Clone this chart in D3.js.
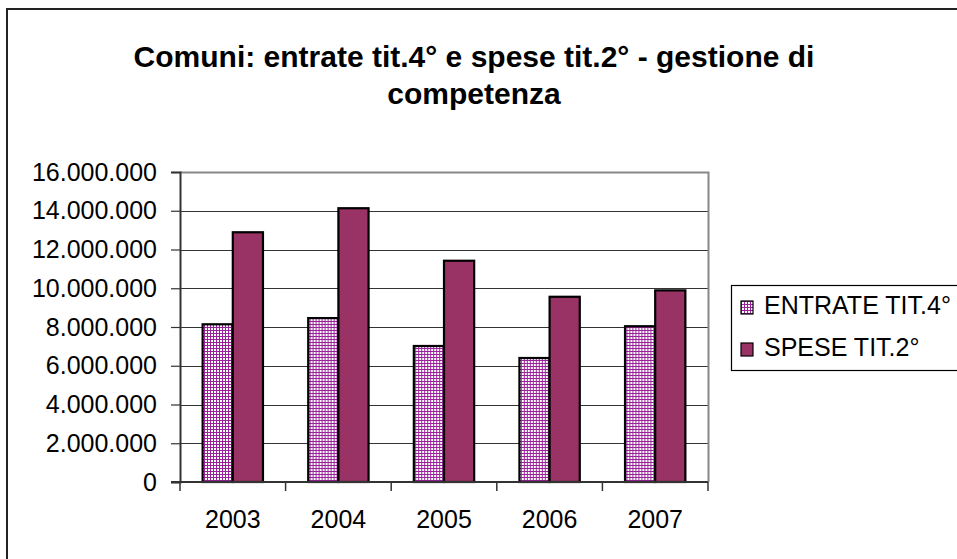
<!DOCTYPE html>
<html lang="it">
<head>
<meta charset="UTF-8">
<title>Comuni: entrate tit.4° e spese tit.2°</title>
<script src="https://d3js.org/d3.v7.min.js"></script>
<style>
    body { margin: 0; background: #fff; }
    svg { display: block; font-family: "Liberation Sans", Arial, sans-serif; }
</style>
</head>
<body>
<svg width="957" height="559"></svg>
<script>
    // data
    const years = ["2003", "2004", "2005", "2006", "2007"];
    const seriesNames = ["ENTRATE TIT.4°", "SPESE TIT.2°"];
    const entrate = [8140000, 8460000, 7020000, 6400000, 8040000];
    const spese = [12890000, 14130000, 11420000, 9560000, 9890000];
    const yTicks = [0, 2000000, 4000000, 6000000, 8000000, 10000000, 12000000, 14000000, 16000000];

    const width = 957, height = 559;
    const plot = { left: 180, right: 708, top: 172, bottom: 482 };

    const svg = d3.select("svg");

    // italian number format 16.000.000
    const it = d3.formatLocale({ decimal: ",", thousands: ".", grouping: [3], currency: ["", " €"] });
    const fmt = it.format(",d");

    // hatch pattern for ENTRATE
    const defs = svg.append("defs");
    const pat = defs.append("pattern")
        .attr("id", "grid")
        .attr("width", 3).attr("height", 3)
        .attr("patternUnits", "userSpaceOnUse");
    pat.append("rect").attr("width", 3).attr("height", 3).attr("fill", "#fff");
    pat.append("rect").attr("x", 0).attr("y", 0).attr("width", 1).attr("height", 3).attr("fill", "#99229a");
    pat.append("rect").attr("x", 0).attr("y", 0).attr("width", 3).attr("height", 1).attr("fill", "#99229a");

    const fills = ["url(#grid)", "#993366"];

    // outer chart border
    svg.append("rect")
        .attr("x", 7).attr("y", 9)
        .attr("width", 1000).attr("height", 600)
        .attr("fill", "none").attr("stroke", "#222").attr("stroke-width", 2);

    // title
    const title = svg.append("text")
        .attr("text-anchor", "middle")
        .attr("font-weight", "bold")
        .attr("font-size", 30)
        .attr("fill", "#000");
    title.append("tspan").attr("x", 474).attr("y", 67).text("Comuni: entrate tit.4° e spese tit.2° - gestione di");
    title.append("tspan").attr("x", 474).attr("y", 104).text("competenza");

    const x = d3.scaleBand().domain(years).range([plot.left, plot.right]).padding(0);
    const x1 = d3.scaleBand().domain(seriesNames).range([0, x.bandwidth()])
        .paddingInner(0).paddingOuter(0.75);
    const y = d3.scaleLinear().domain([0, 16000000]).range([plot.bottom, plot.top]);

    // gridlines
    svg.append("g")
        .selectAll("line")
        .data(yTicks.filter(d => d > 0 && d < 16000000))
        .join("line")
        .attr("x1", plot.left).attr("x2", plot.right)
        .attr("y1", d => Math.round(y(d)) + 0.5).attr("y2", d => Math.round(y(d)) + 0.5)
        .attr("stroke", "#333").attr("stroke-width", 1.2);

    // plot area frame (top + right)
    svg.append("path")
        .attr("d", `M${plot.left},${plot.top + 0.5}H${plot.right + 0.5}V${plot.bottom}`)
        .attr("fill", "none").attr("stroke", "#888").attr("stroke-width", 2);

    // bars
    const data = years.map((yr, i) => ({ year: yr, values: [entrate[i], spese[i]] }));
    const groups = svg.append("g")
        .selectAll("g")
        .data(data)
        .join("g")
        .attr("transform", d => `translate(${x(d.year)},0)`);

    groups.selectAll("rect")
        .data(d => d.values.map((v, j) => ({ key: seriesNames[j], value: v, j })))
        .join("rect")
        .attr("x", d => x1(d.key))
        .attr("y", d => y(d.value))
        .attr("width", x1.bandwidth())
        .attr("height", d => y(0) - y(d.value))
        .attr("fill", d => fills[d.j])
        .attr("stroke", "#000")
        .attr("stroke-width", 2.2);

    // y axis
    const yAxis = svg.append("g")
        .attr("transform", `translate(${plot.left},0)`)
        .call(d3.axisLeft(y).tickValues(yTicks).tickFormat(fmt).tickSize(9).tickPadding(14));
    yAxis.select(".domain").attr("stroke", "#333").attr("stroke-width", 2);
    yAxis.selectAll(".tick line").attr("stroke", "#333").attr("stroke-width", 1.2);
    yAxis.selectAll("text").attr("font-size", 25).attr("fill", "#000")
        .attr("font-family", "Liberation Sans, Arial, sans-serif");

    // x axis: ticks on category boundaries
    const xg = svg.append("g");
    xg.append("line")
        .attr("x1", plot.left - 9).attr("x2", plot.right)
        .attr("y1", plot.bottom).attr("y2", plot.bottom)
        .attr("stroke", "#333").attr("stroke-width", 2);
    const bounds = years.map(d => x(d)).concat([x(years[years.length - 1]) + x.bandwidth()]);
    xg.selectAll("line.tk")
        .data(bounds)
        .join("line")
        .attr("class", "tk")
        .attr("x1", d => d).attr("x2", d => d)
        .attr("y1", plot.bottom).attr("y2", plot.bottom + 9)
        .attr("stroke", "#333").attr("stroke-width", 1.5);
    xg.selectAll("text")
        .data(years)
        .join("text")
        .attr("x", d => x(d) + x.bandwidth() / 2)
        .attr("y", 528)
        .attr("text-anchor", "middle")
        .attr("font-size", 25)
        .attr("fill", "#000")
        .text(d => d);

    // legend
    const lg = svg.append("g");
    lg.append("rect")
        .attr("x", 731.5).attr("y", 285.5)
        .attr("width", 300).attr("height", 85)
        .attr("fill", "#fff").attr("stroke", "#000").attr("stroke-width", 1.2);
    const items = lg.selectAll("g")
        .data(seriesNames)
        .join("g")
        .attr("transform", (d, i) => `translate(741,${301 + i * 42})`);
    items.append("rect")
        .attr("width", 12).attr("height", 13)
        .attr("fill", (d, i) => fills[i])
        .attr("stroke", "#000").attr("stroke-width", 1.2);
    items.append("text")
        .attr("x", 23).attr("y", 13)
        .attr("font-size", 25)
        .attr("fill", "#000")
        .text(d => d);
</script>
</body>
</html>
